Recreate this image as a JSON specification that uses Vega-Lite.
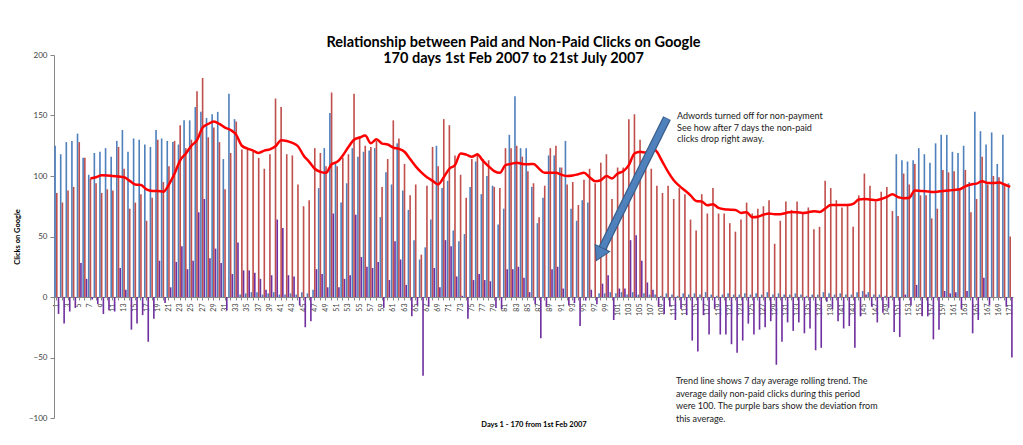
{
"$schema":"https://vega.github.io/schema/vega-lite/v6.json",
"width":959,"height":363,
"autosize":{"type":"none"},
"padding":{"left":54,"top":55,"right":10,"bottom":27},
"background":"white",
"config":{"font":"Lato","view":{"stroke":null}},
"title":{"text":["Relationship between Paid and Non-Paid Clicks on Google","170 days 1st Feb 2007 to 21st July 2007"],"fontSize":14.5,"fontWeight":"bold","font":"Lato","color":"#000000","anchor":"middle","frame":"group","dx":-20,"offset":-15,"lineHeight":16},
"data":{"values":[
{"day":1,"paid":125,"nonpaid":86,"dev":-14,"trend":null},
{"day":2,"paid":118,"nonpaid":78,"dev":-22,"trend":null},
{"day":3,"paid":128,"nonpaid":88,"dev":-12,"trend":null},
{"day":4,"paid":129,"nonpaid":91,"dev":-9,"trend":null},
{"day":5,"paid":135,"nonpaid":128,"dev":28,"trend":null},
{"day":6,"paid":115,"nonpaid":115,"dev":15,"trend":null},
{"day":7,"paid":101,"nonpaid":98,"dev":-2,"trend":98},
{"day":8,"paid":119,"nonpaid":94,"dev":-6,"trend":99},
{"day":9,"paid":120,"nonpaid":86,"dev":-14,"trend":100.6},
{"day":10,"paid":123,"nonpaid":89,"dev":-11,"trend":100.5},
{"day":11,"paid":116,"nonpaid":88,"dev":-12,"trend":100},
{"day":12,"paid":129,"nonpaid":124,"dev":24,"trend":99.5},
{"day":13,"paid":138,"nonpaid":106,"dev":6,"trend":99},
{"day":14,"paid":120,"nonpaid":73,"dev":-27,"trend":96},
{"day":15,"paid":131,"nonpaid":78,"dev":-22,"trend":93},
{"day":16,"paid":130,"nonpaid":85,"dev":-15,"trend":92.6},
{"day":17,"paid":126,"nonpaid":63,"dev":-37,"trend":89},
{"day":18,"paid":124,"nonpaid":82,"dev":-18,"trend":87.7},
{"day":19,"paid":138,"nonpaid":130,"dev":30,"trend":87.7},
{"day":20,"paid":131,"nonpaid":95,"dev":-5,"trend":87},
{"day":21,"paid":129,"nonpaid":108,"dev":8,"trend":93},
{"day":22,"paid":128,"nonpaid":129,"dev":29,"trend":102},
{"day":23,"paid":126,"nonpaid":142,"dev":42,"trend":113},
{"day":24,"paid":146,"nonpaid":123,"dev":23,"trend":118.5},
{"day":25,"paid":146,"nonpaid":130,"dev":30,"trend":125},
{"day":26,"paid":157,"nonpaid":170,"dev":70,"trend":129.6},
{"day":27,"paid":153,"nonpaid":181,"dev":81,"trend":140},
{"day":28,"paid":148,"nonpaid":132,"dev":32,"trend":143},
{"day":29,"paid":151,"nonpaid":140,"dev":40,"trend":145},
{"day":30,"paid":153,"nonpaid":128,"dev":28,"trend":143},
{"day":31,"paid":114,"nonpaid":89,"dev":-11,"trend":140},
{"day":32,"paid":168,"nonpaid":119,"dev":19,"trend":138},
{"day":33,"paid":147,"nonpaid":145,"dev":45,"trend":134},
{"day":34,"paid":2,"nonpaid":122,"dev":22,"trend":125},
{"day":35,"paid":3,"nonpaid":122,"dev":22,"trend":122.7},
{"day":36,"paid":4,"nonpaid":120,"dev":20,"trend":121},
{"day":37,"paid":4,"nonpaid":115,"dev":15,"trend":119},
{"day":38,"paid":2,"nonpaid":106,"dev":6,"trend":121},
{"day":39,"paid":3,"nonpaid":118,"dev":18,"trend":122},
{"day":40,"paid":4,"nonpaid":164,"dev":64,"trend":124.6},
{"day":41,"paid":2,"nonpaid":157,"dev":57,"trend":129.6},
{"day":42,"paid":2,"nonpaid":118,"dev":18,"trend":129},
{"day":43,"paid":3,"nonpaid":117,"dev":17,"trend":127.4},
{"day":44,"paid":2,"nonpaid":93,"dev":-7,"trend":124.6},
{"day":45,"paid":4,"nonpaid":75,"dev":-25,"trend":117},
{"day":46,"paid":3,"nonpaid":80,"dev":-20,"trend":111.7},
{"day":47,"paid":6,"nonpaid":123,"dev":23,"trend":106},
{"day":48,"paid":90,"nonpaid":119,"dev":19,"trend":103.4},
{"day":49,"paid":123,"nonpaid":108,"dev":8,"trend":102.6},
{"day":50,"paid":152,"nonpaid":169,"dev":69,"trend":109.7},
{"day":51,"paid":110,"nonpaid":108,"dev":8,"trend":111.7},
{"day":52,"paid":78,"nonpaid":115,"dev":15,"trend":117},
{"day":53,"paid":94,"nonpaid":118,"dev":18,"trend":124},
{"day":54,"paid":123,"nonpaid":168,"dev":68,"trend":130},
{"day":55,"paid":116,"nonpaid":133,"dev":33,"trend":131.8},
{"day":56,"paid":120,"nonpaid":125,"dev":25,"trend":133.4},
{"day":57,"paid":121,"nonpaid":124,"dev":24,"trend":127},
{"day":58,"paid":123,"nonpaid":129,"dev":29,"trend":130.4},
{"day":59,"paid":66,"nonpaid":91,"dev":-9,"trend":126.8},
{"day":60,"paid":103,"nonpaid":114,"dev":14,"trend":126},
{"day":61,"paid":93,"nonpaid":146,"dev":46,"trend":123.5},
{"day":62,"paid":127,"nonpaid":131,"dev":31,"trend":122.4},
{"day":63,"paid":88,"nonpaid":110,"dev":10,"trend":120},
{"day":64,"paid":72,"nonpaid":84,"dev":-16,"trend":114},
{"day":65,"paid":47,"nonpaid":93,"dev":-7,"trend":108},
{"day":66,"paid":31,"nonpaid":35,"dev":-65,"trend":103},
{"day":67,"paid":41,"nonpaid":92,"dev":-8,"trend":99},
{"day":68,"paid":64,"nonpaid":124,"dev":24,"trend":96},
{"day":69,"paid":125,"nonpaid":108,"dev":8,"trend":93},
{"day":70,"paid":90,"nonpaid":147,"dev":47,"trend":99},
{"day":71,"paid":96,"nonpaid":142,"dev":42,"trend":106},
{"day":72,"paid":55,"nonpaid":117,"dev":17,"trend":109},
{"day":73,"paid":46,"nonpaid":101,"dev":1,"trend":118.6},
{"day":74,"paid":52,"nonpaid":82,"dev":-18,"trend":117.7},
{"day":75,"paid":91,"nonpaid":114,"dev":14,"trend":116},
{"day":76,"paid":112,"nonpaid":119,"dev":19,"trend":117.7},
{"day":77,"paid":85,"nonpaid":114,"dev":14,"trend":112.5},
{"day":78,"paid":100,"nonpaid":113,"dev":13,"trend":108},
{"day":79,"paid":92,"nonpaid":91,"dev":-9,"trend":104},
{"day":80,"paid":60,"nonpaid":90,"dev":-10,"trend":102.6},
{"day":81,"paid":73,"nonpaid":123,"dev":23,"trend":109},
{"day":82,"paid":134,"nonpaid":123,"dev":23,"trend":110},
{"day":83,"paid":166,"nonpaid":125,"dev":25,"trend":111},
{"day":84,"paid":123,"nonpaid":116,"dev":16,"trend":110},
{"day":85,"paid":123,"nonpaid":104,"dev":4,"trend":109.7},
{"day":86,"paid":91,"nonpaid":94,"dev":-6,"trend":110},
{"day":87,"paid":61,"nonpaid":66,"dev":-34,"trend":106},
{"day":88,"paid":82,"nonpaid":92,"dev":-8,"trend":102.6},
{"day":89,"paid":117,"nonpaid":123,"dev":23,"trend":102.6},
{"day":90,"paid":117,"nonpaid":125,"dev":25,"trend":102.6},
{"day":91,"paid":107,"nonpaid":107,"dev":7,"trend":101},
{"day":92,"paid":129,"nonpaid":93,"dev":-7,"trend":100},
{"day":93,"paid":73,"nonpaid":95,"dev":-5,"trend":100.4},
{"day":94,"paid":63,"nonpaid":76,"dev":-24,"trend":101.5},
{"day":95,"paid":80,"nonpaid":97,"dev":-3,"trend":102.6},
{"day":96,"paid":78,"nonpaid":106,"dev":6,"trend":99},
{"day":97,"paid":0,"nonpaid":94,"dev":-6,"trend":95.7},
{"day":98,"paid":3,"nonpaid":111,"dev":11,"trend":96.5},
{"day":99,"paid":3,"nonpaid":118,"dev":18,"trend":100},
{"day":100,"paid":4,"nonpaid":81,"dev":-19,"trend":98},
{"day":101,"paid":3,"nonpaid":107,"dev":7,"trend":102},
{"day":102,"paid":4,"nonpaid":107,"dev":7,"trend":104},
{"day":103,"paid":2,"nonpaid":147,"dev":47,"trend":109},
{"day":104,"paid":4,"nonpaid":151,"dev":51,"trend":118.6},
{"day":105,"paid":2,"nonpaid":130,"dev":30,"trend":120},
{"day":106,"paid":3,"nonpaid":112,"dev":12,"trend":119.4},
{"day":107,"paid":2,"nonpaid":106,"dev":6,"trend":124},
{"day":108,"paid":2,"nonpaid":92,"dev":-8,"trend":120},
{"day":109,"paid":1,"nonpaid":86,"dev":-14,"trend":111.7},
{"day":110,"paid":3,"nonpaid":92,"dev":-8,"trend":103.4},
{"day":111,"paid":2,"nonpaid":81,"dev":-19,"trend":96.5},
{"day":112,"paid":1,"nonpaid":90,"dev":-10,"trend":91.8},
{"day":113,"paid":3,"nonpaid":85,"dev":-15,"trend":88},
{"day":114,"paid":2,"nonpaid":64,"dev":-36,"trend":84},
{"day":115,"paid":3,"nonpaid":55,"dev":-45,"trend":79.4},
{"day":116,"paid":2,"nonpaid":85,"dev":-15,"trend":79},
{"day":117,"paid":4,"nonpaid":69,"dev":-31,"trend":75.8},
{"day":118,"paid":2,"nonpaid":90,"dev":-10,"trend":76.6},
{"day":119,"paid":1,"nonpaid":69,"dev":-31,"trend":73.6},
{"day":120,"paid":2,"nonpaid":69,"dev":-31,"trend":72.5},
{"day":121,"paid":3,"nonpaid":61,"dev":-39,"trend":72.2},
{"day":122,"paid":2,"nonpaid":54,"dev":-46,"trend":72},
{"day":123,"paid":2,"nonpaid":64,"dev":-36,"trend":69.5},
{"day":124,"paid":3,"nonpaid":78,"dev":-22,"trend":70},
{"day":125,"paid":2,"nonpaid":69,"dev":-31,"trend":66},
{"day":126,"paid":3,"nonpaid":73,"dev":-27,"trend":66.4},
{"day":127,"paid":2,"nonpaid":75,"dev":-25,"trend":68},
{"day":128,"paid":4,"nonpaid":80,"dev":-20,"trend":69},
{"day":129,"paid":2,"nonpaid":44,"dev":-56,"trend":68.4},
{"day":130,"paid":3,"nonpaid":63,"dev":-37,"trend":68.4},
{"day":131,"paid":2,"nonpaid":79,"dev":-21,"trend":69.5},
{"day":132,"paid":2,"nonpaid":72,"dev":-28,"trend":70.3},
{"day":133,"paid":3,"nonpaid":79,"dev":-21,"trend":70},
{"day":134,"paid":2,"nonpaid":70,"dev":-30,"trend":69.5},
{"day":135,"paid":1,"nonpaid":74,"dev":-26,"trend":70},
{"day":136,"paid":2,"nonpaid":56,"dev":-44,"trend":70.9},
{"day":137,"paid":2,"nonpaid":58,"dev":-42,"trend":70.3},
{"day":138,"paid":4,"nonpaid":96,"dev":-4,"trend":73},
{"day":139,"paid":3,"nonpaid":90,"dev":-10,"trend":76},
{"day":140,"paid":2,"nonpaid":80,"dev":-20,"trend":76},
{"day":141,"paid":3,"nonpaid":74,"dev":-26,"trend":76},
{"day":142,"paid":2,"nonpaid":76,"dev":-24,"trend":76},
{"day":143,"paid":2,"nonpaid":58,"dev":-42,"trend":77},
{"day":144,"paid":4,"nonpaid":84,"dev":-16,"trend":80.5},
{"day":145,"paid":5,"nonpaid":102,"dev":2,"trend":81},
{"day":146,"paid":4,"nonpaid":92,"dev":-8,"trend":80.5},
{"day":147,"paid":2,"nonpaid":79,"dev":-21,"trend":80},
{"day":148,"paid":2,"nonpaid":87,"dev":-13,"trend":81},
{"day":149,"paid":1,"nonpaid":91,"dev":-9,"trend":82.7},
{"day":150,"paid":1,"nonpaid":71,"dev":-29,"trend":85},
{"day":151,"paid":118,"nonpaid":67,"dev":-33,"trend":82.5},
{"day":152,"paid":113,"nonpaid":102,"dev":2,"trend":81.6},
{"day":153,"paid":112,"nonpaid":93,"dev":-7,"trend":82},
{"day":154,"paid":113,"nonpaid":110,"dev":10,"trend":88},
{"day":155,"paid":123,"nonpaid":84,"dev":-16,"trend":87.7},
{"day":156,"paid":118,"nonpaid":84,"dev":-16,"trend":87.4},
{"day":157,"paid":111,"nonpaid":65,"dev":-35,"trend":86.8},
{"day":158,"paid":127,"nonpaid":73,"dev":-27,"trend":87},
{"day":159,"paid":134,"nonpaid":105,"dev":5,"trend":87.7},
{"day":160,"paid":134,"nonpaid":103,"dev":3,"trend":88},
{"day":161,"paid":120,"nonpaid":104,"dev":4,"trend":88.5},
{"day":162,"paid":119,"nonpaid":90,"dev":-10,"trend":89},
{"day":163,"paid":125,"nonpaid":105,"dev":5,"trend":91.5},
{"day":164,"paid":95,"nonpaid":70,"dev":-30,"trend":93},
{"day":165,"paid":153,"nonpaid":81,"dev":-19,"trend":93.7},
{"day":166,"paid":137,"nonpaid":116,"dev":16,"trend":95.7},
{"day":167,"paid":126,"nonpaid":93,"dev":-7,"trend":94.3},
{"day":168,"paid":136,"nonpaid":100,"dev":0,"trend":94.3},
{"day":169,"paid":110,"nonpaid":99,"dev":-1,"trend":94.6},
{"day":170,"paid":134,"nonpaid":92,"dev":-8,"trend":93},
{"day":171,"paid":94,"nonpaid":50,"dev":-50,"trend":91}
]},
"layer":[
{"layer":[
{"transform":[{"fold":["paid","nonpaid","dev"],"as":["series","value"]}],
"mark":{"type":"bar"},
"encoding":{
"x":{"field":"day","type":"ordinal","scale":{"paddingInner":0.1,"paddingOuter":0.05},
"axis":{"orient":"bottom","offset":-121,"title":"Days 1 - 170 from 1st Feb 2007","titleY":127,"titleBaseline":"middle","titleFontSize":7.5,"titleFontWeight":"bold","titleColor":"#000000","labelAngle":-90,"labelFontSize":7,"labelColor":"#404040","labelExpr":"datum.value % 2 == 1 ? datum.label : ''","labelOverlap":false,"labelPadding":3,"tickSize":3,"tickColor":"#868686","domainColor":"#868686"}},
"xOffset":{"field":"series","type":"nominal","scale":{"domain":["paid","nonpaid","dev"],"paddingInner":0.05}},
"y":{"field":"value","type":"quantitative","scale":{"domain":[-100,200],"nice":false},
"axis":{"values":[-100,-50,0,50,100,150,200],"title":"Clicks on Google","titleFontSize":7.5,"titleFontWeight":"bold","titleColor":"#000000","titlePadding":7,"labelFontSize":8,"labelColor":"#404040","labelPadding":3,"tickSize":4,"tickColor":"#868686","domainColor":"#868686","grid":false}},
"color":{"field":"series","type":"nominal","scale":{"domain":["paid","nonpaid","dev"],"range":["#4F81BD","#C0504D","#7030A0"]},"legend":null}
}},
{"mark":{"type":"line","color":"#FF0000","strokeWidth":2.5,"interpolate":"monotone"},
"encoding":{
"x":{"field":"day","type":"ordinal"},
"y":{"field":"trend","type":"quantitative","scale":{"domain":[-100,200],"nice":false}}
}}
]},
{"layer":[
{"data":{"values":[{}]},
"mark":{"type":"rule","color":"#385D8A","strokeWidth":8.5,"strokeCap":"butt"},
"encoding":{
"x":{"datum":109.8,"type":"quantitative","scale":{"domain":[0.5,171.5],"nice":false,"zero":false},"axis":null},
"x2":{"datum":97.75},
"y":{"datum":147.8,"type":"quantitative","scale":{"domain":[-100,200],"nice":false}},
"y2":{"datum":35.3}
}},
{"data":{"values":[{}]},
"mark":{"type":"rule","color":"#4F81BD","strokeWidth":6,"strokeCap":"butt"},
"encoding":{
"x":{"datum":109.75,"type":"quantitative","scale":{"domain":[0.5,171.5],"nice":false,"zero":false},"axis":null},
"x2":{"datum":97.75},
"y":{"datum":147.4,"type":"quantitative","scale":{"domain":[-100,200],"nice":false}},
"y2":{"datum":35.3}
}},
{"data":{"values":[{}]},
"mark":{"type":"point","shape":"triangle-up","filled":true,"color":"#4F81BD","stroke":"#385D8A","strokeWidth":1,"opacity":1,"size":260,"angle":206.1},
"encoding":{
"x":{"datum":97.75,"type":"quantitative","scale":{"domain":[0.5,171.5],"nice":false,"zero":false},"axis":null},
"y":{"datum":35.3,"type":"quantitative","scale":{"domain":[-100,200],"nice":false}}
}},
{"data":{"values":[{}]},
"mark":{"type":"text","text":["Adwords turned off for non-payment","See how after 7 days the non-paid","clicks drop right away."],"align":"left","baseline":"top","fontSize":9,"font":"Lato","color":"#1a1a1a","lineHeight":11.6},
"encoding":{
"x":{"datum":111.6,"type":"quantitative","scale":{"domain":[0.5,171.5],"nice":false,"zero":false},"axis":null},
"y":{"datum":152.8,"type":"quantitative","scale":{"domain":[-100,200],"nice":false}}
}},
{"data":{"values":[{}]},
"mark":{"type":"text","text":["Trend line shows 7  day average rolling trend. The","average daily non-paid clicks  during this period","were 100. The purple bars show the deviation from","this average."],"align":"left","baseline":"top","fontSize":9,"font":"Lato","color":"#1a1a1a","lineHeight":12.5},
"encoding":{
"x":{"datum":111.4,"type":"quantitative","scale":{"domain":[0.5,171.5],"nice":false,"zero":false},"axis":null},
"y":{"datum":-66.4,"type":"quantitative","scale":{"domain":[-100,200],"nice":false}}
}}
]}
],
"resolve":{"scale":{"x":"independent"}}
}
